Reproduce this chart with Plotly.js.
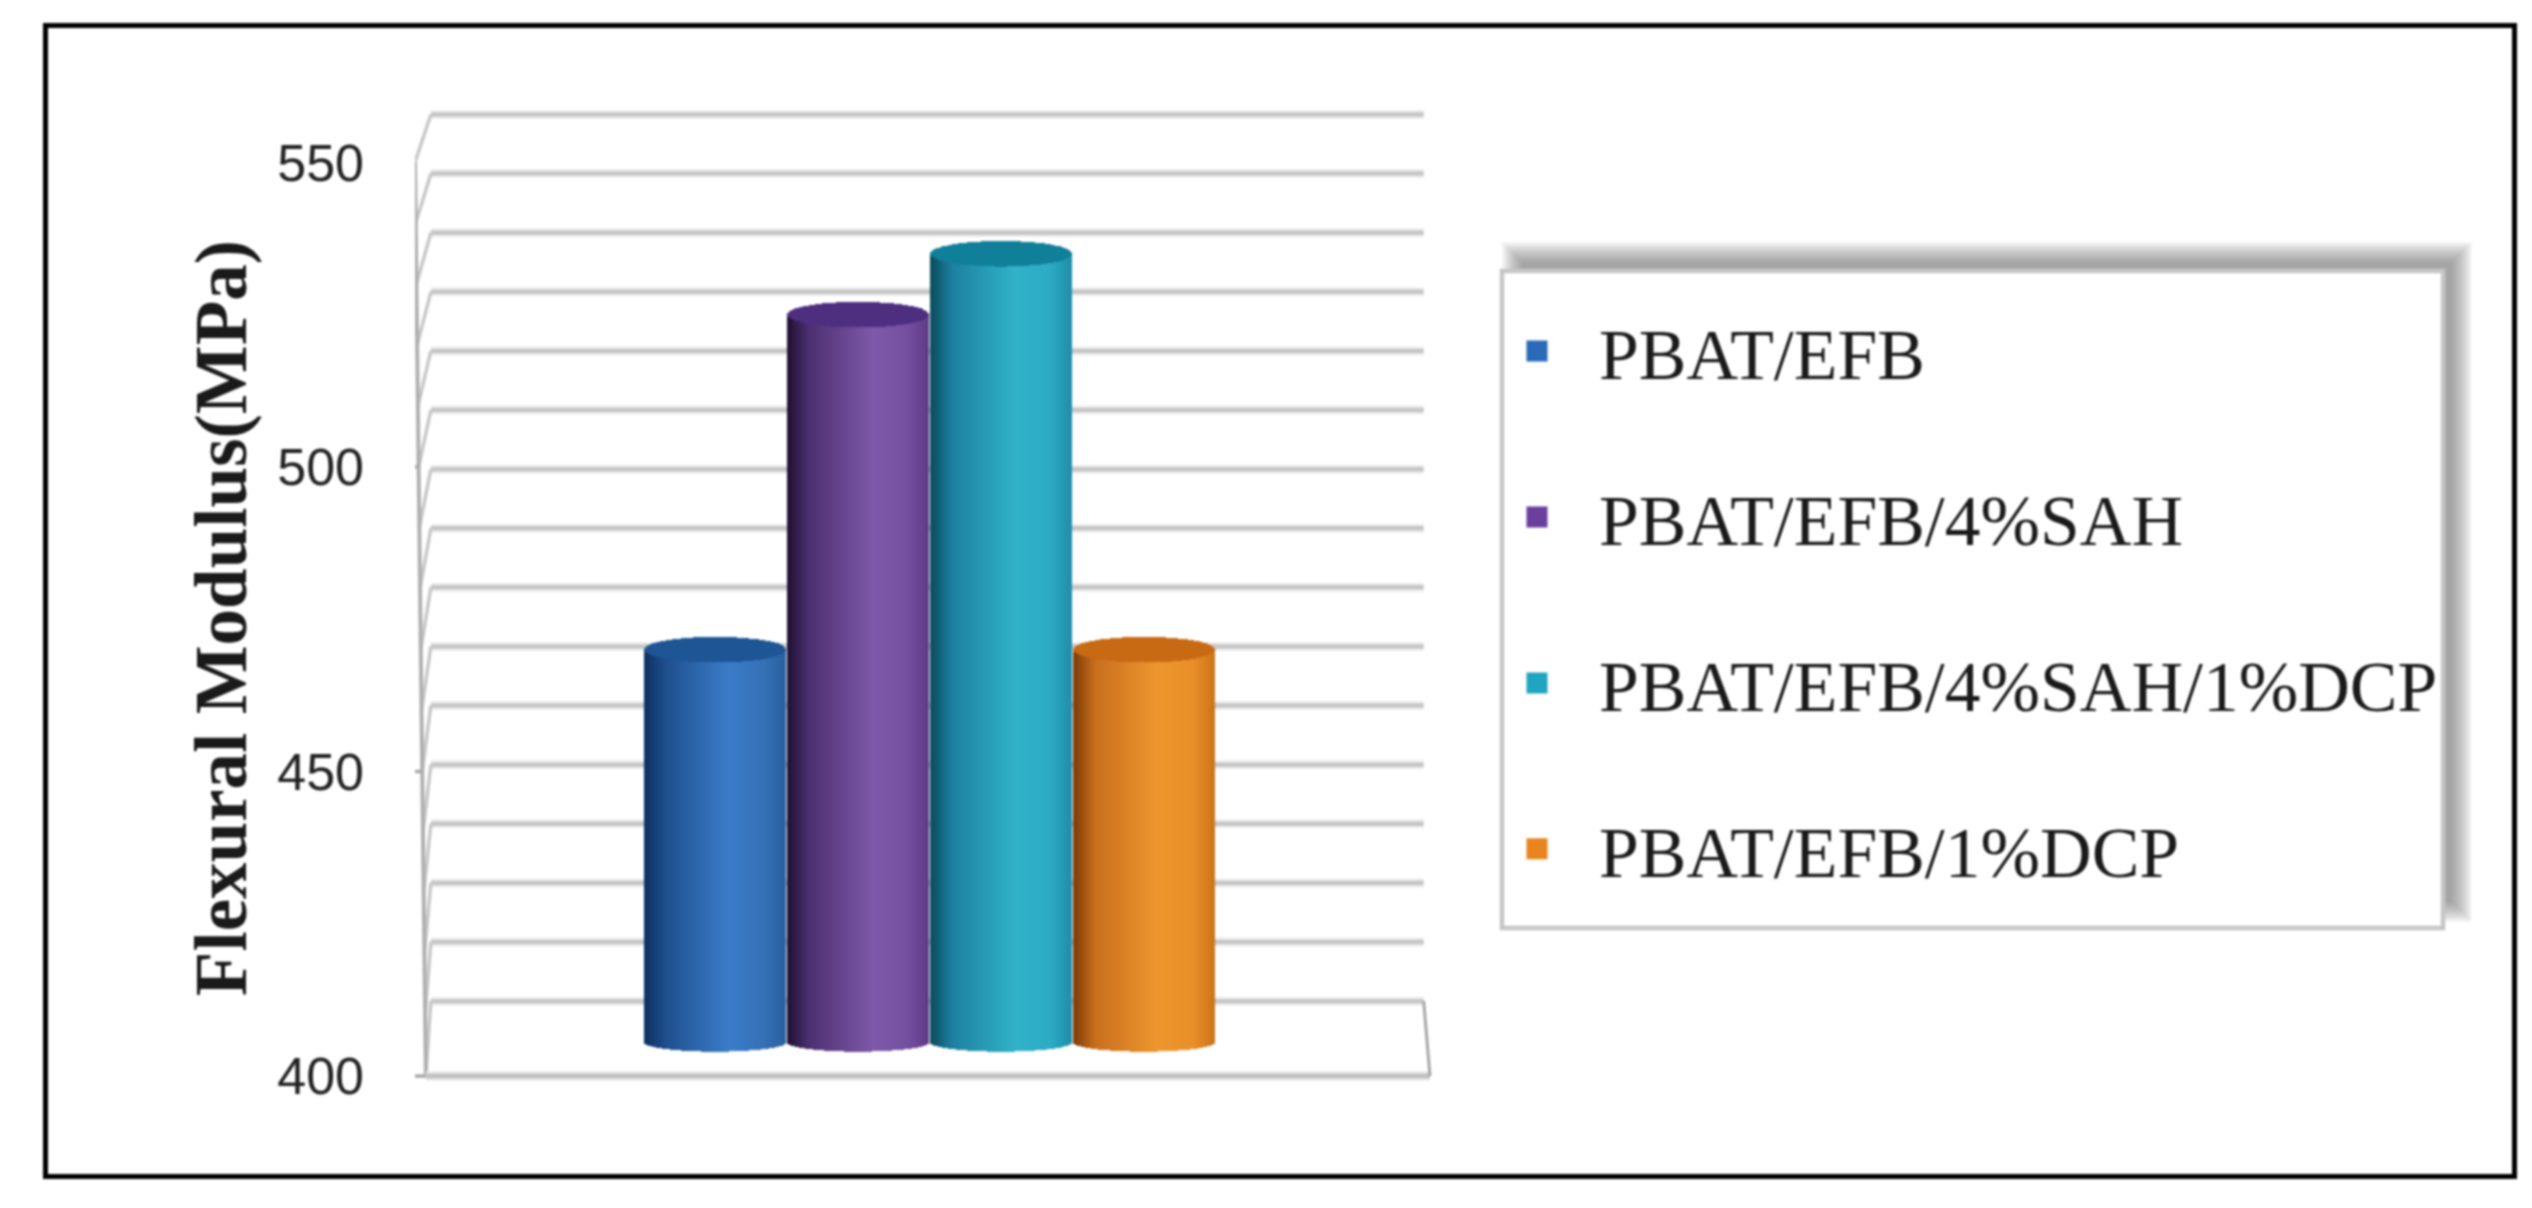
<!DOCTYPE html>
<html>
<head>
<meta charset="utf-8">
<script src="https://cdn.plot.ly/plotly-3.0.1.min.js"></script>
<style>
  html, body { margin: 0; padding: 0; background: #fff; }
  /* the source picture is a soft scan */
  #chart { filter: blur(0.8px); }
</style>
</head>
<body>
<div id="chart" style="width:2532px;height:1208px;"></div>
<script>
// Chart data
const seriesNames = ['PBAT/EFB', 'PBAT/EFB/4%SAH', 'PBAT/EFB/4%SAH/1%DCP', 'PBAT/EFB/1%DCP'];
const modulusValues = [470, 525, 535, 470];
const barBase = 405.6;
const axisTicks = [400, 450, 500, 550];
const gridValues = [400, 410, 420, 430, 440, 450, 460, 470, 480, 490, 500, 510, 520, 530, 540, 550];

// Cylinder colours, left to right across the body, then the top cap
const bodyStops = [
    ['#0e2e5e', '#1e4f8e', '#3b7cc9', '#3470b5', '#2a5f9f'],
    ['#1f1030', '#4b2f70', '#7e58a9', '#7650a0', '#5d3a85'],
    ['#0a4a5a', '#1d7f9f', '#30b2c9', '#2cabc4', '#1f8ca8'],
    ['#7a3a08', '#c76e1e', '#ee962e', '#e98e28', '#cb7418']
];
const stopAt = [0, 0.15, 0.6, 0.85, 1];
const capColors = ['#1d5595', '#4d2e7f', '#0f7f9a', '#c86a14'];
const legendColors = ['#2a6ab8', '#6a3f9e', '#1fa5c0', '#e8851f'];

const valueRange = [391.8, 558.6];

// The wall sits behind the front axis, so its lines are shifted and a bit tighter
const wallY = v => 412.3 + (v - 400) * 0.9704;
const wallLeft = -0.989, wallRight = 5.956, floorRight = 6.0;
const frontX = v => -1.024 - (v - 400) * 0.000507;

function mixColor(stops, t) {
    let i = 0;
    while (i < stopAt.length - 2 && t > stopAt[i + 1]) i++;
    const f = (t - stopAt[i]) / (stopAt[i + 1] - stopAt[i]);
    const a = parseInt(stops[i].slice(1), 16), b = parseInt(stops[i + 1].slice(1), 16);
    const ch = s => Math.round(((a >> s) & 255) * (1 - f) + ((b >> s) & 255) * f);
    return `rgb(${ch(16)},${ch(8)},${ch(0)})`;
}

// One cylinder = a bar per pixel column, so the shading goes across it
function cylinderTraces(idx) {
    const n = 72, halfWidth = 0.497, capH = 2.1, baseH = 1.6;
    const xs = [], bodyBase = [], bodyH = [], bodyCol = [], capBase = [], capHeight = [];
    for (let k = 0; k < n; k++) {
        const t = (k + 0.5) / n;
        const u = 2 * t - 1;
        const round = Math.sqrt(1 - u * u);
        xs.push(idx + 1 + u * halfWidth);
        bodyBase.push(barBase - baseH * round);
        bodyH.push(modulusValues[idx] - (barBase - baseH * round));
        bodyCol.push(mixColor(bodyStops[idx], t));
        capBase.push(modulusValues[idx] - capH * round);
        capHeight.push(2 * capH * round);
    }
    const w = 2 * halfWidth / n * 1.2;
    // y2 overlays y, that is what puts the bars in front of the wall lines
    const common = { type: 'bar', x: xs, yaxis: 'y2', width: w, showlegend: false, hoverinfo: 'skip' };
    return [
        { ...common, y: bodyH, base: bodyBase, marker: { color: bodyCol, line: { width: 0 } } },
        { ...common, y: capHeight, base: capBase, marker: { color: capColors[idx], line: { width: 0 } } }
    ];
}

// Wall lines
const gridX = [], gridY = [], linkX = [], linkY = [], stubX = [], stubY = [];
gridValues.forEach(v => {
    gridX.push(wallLeft, wallRight, null);
    gridY.push(wallY(v), wallY(v), null);
    linkX.push(wallLeft, frontX(v), null);
    linkY.push(wallY(v), v, null);
});
axisTicks.forEach(v => {
    stubX.push(frontX(v) - 0.11, frontX(v), null);
    stubY.push(v, v, null);
});
const lineTrace = (x, y, color, width) => ({
    type: 'scatter', mode: 'lines', x: x, y: y,
    line: { color: color, width: width }, showlegend: false, hoverinfo: 'skip'
});

const traces = [
    lineTrace(gridX, gridY, '#eeeeee', 9),
    lineTrace(gridX, gridY, '#c6c6c6', 4.5),
    lineTrace(linkX, linkY, '#c8c8c8', 3.5),
    lineTrace([frontX(400), frontX(550)], [400, 550], '#b0b0b0', 4),
    lineTrace(stubX, stubY, '#a8a8a8', 3.5),
    lineTrace([frontX(400), floorRight], [400, 400], '#e6e6e6', 9),
    lineTrace([frontX(400), floorRight], [400, 400], '#c0c0c0', 4.5),
    lineTrace([wallRight, floorRight], [wallY(400), 400], '#a6a6a6', 3)
];
modulusValues.forEach((v, i) => traces.push(...cylinderTraces(i)));

// Legend only entries
seriesNames.forEach((name, i) => {
    traces.push({
        type: 'scatter', mode: 'markers', x: [null], y: [null], name: name,
        legendgroup: name,
        marker: { symbol: 'square', size: 16, color: legendColors[i], line: { width: 5, color: legendColors[i] } }
    });
});

// Legend box shadow: soft edge made of stacked faint rects
const shapes = [];
for (let grow = 10; grow >= -10; grow -= 2) {
    shapes.push({
        type: 'rect', xref: 'paper', yref: 'paper', layer: 'below',
        x0: (1512 - grow) / 2532, x1: (2462 + grow) / 2532,
        y0: 1 - (912 + grow) / 1208, y1: 1 - (252 - grow) / 1208,
        line: { width: 0 }, fillcolor: 'rgba(100,100,100,0.07)'
    });
}
shapes.push({
    type: 'rect', xref: 'paper', yref: 'paper', layer: 'below',
    x0: 1502 / 2532, x1: 2443 / 2532, y0: 1 - 928 / 1208, y1: 1 - 271 / 1208,
    line: { color: '#c6c6c6', width: 4.5 }, fillcolor: '#ffffff'
});
// Outer frame
shapes.push({
    type: 'rect', xref: 'paper', yref: 'paper', layer: 'above',
    x0: 45.5 / 2532, x1: 2514.5 / 2532, y0: 1 - 1176.5 / 1208, y1: 1 - 25.5 / 1208,
    line: { color: '#000000', width: 5 }, fillcolor: 'rgba(0,0,0,0)'
});

const valueDomain = [1 - 1126 / 1208, 1 - 110 / 1208];

const layout = {
    width: 2532,
    height: 1208,
    margin: { t: 0, r: 0, b: 0, l: 0 },
    paper_bgcolor: '#ffffff',
    plot_bgcolor: 'rgba(0,0,0,0)',
    barmode: 'overlay',
    bargap: 0,
    xaxis: {
        domain: [415 / 2532, 1440 / 2532],
        range: [-1.1, 6.07],
        visible: false,
        fixedrange: true
    },
    yaxis: {
        domain: valueDomain,
        range: valueRange,
        tickmode: 'array',
        tickvals: axisTicks,
        ticktext: axisTicks.map(String),
        ticks: '',
        showgrid: false,
        zeroline: false,
        showline: false,
        ticklabelstandoff: 50,
        tickfont: { family: 'Liberation Sans', size: 52, color: '#222222' },
        title: {
            text: 'Flexural Modulus(MPa)',
            standoff: 6,
            font: { family: 'Liberation Serif', size: 73, color: '#1a1a1a', weight: 'bold' }
        }
    },
    yaxis2: {
        domain: valueDomain,
        range: valueRange,
        overlaying: 'y',
        visible: false
    },
    legend: {
        x: 1475 / 2532,
        y: 1 - 298 / 1208,
        xanchor: 'left',
        yanchor: 'top',
        bgcolor: 'rgba(0,0,0,0)',
        borderwidth: 0,
        itemwidth: 114,
        tracegroupgap: 70,
        font: { family: 'Liberation Serif', size: 71.5, color: '#1a1a1a' }
    },
    shapes: shapes
};

Plotly.newPlot('chart', traces, layout, { displayModeBar: false, responsive: false });
</script>
</body>
</html>
